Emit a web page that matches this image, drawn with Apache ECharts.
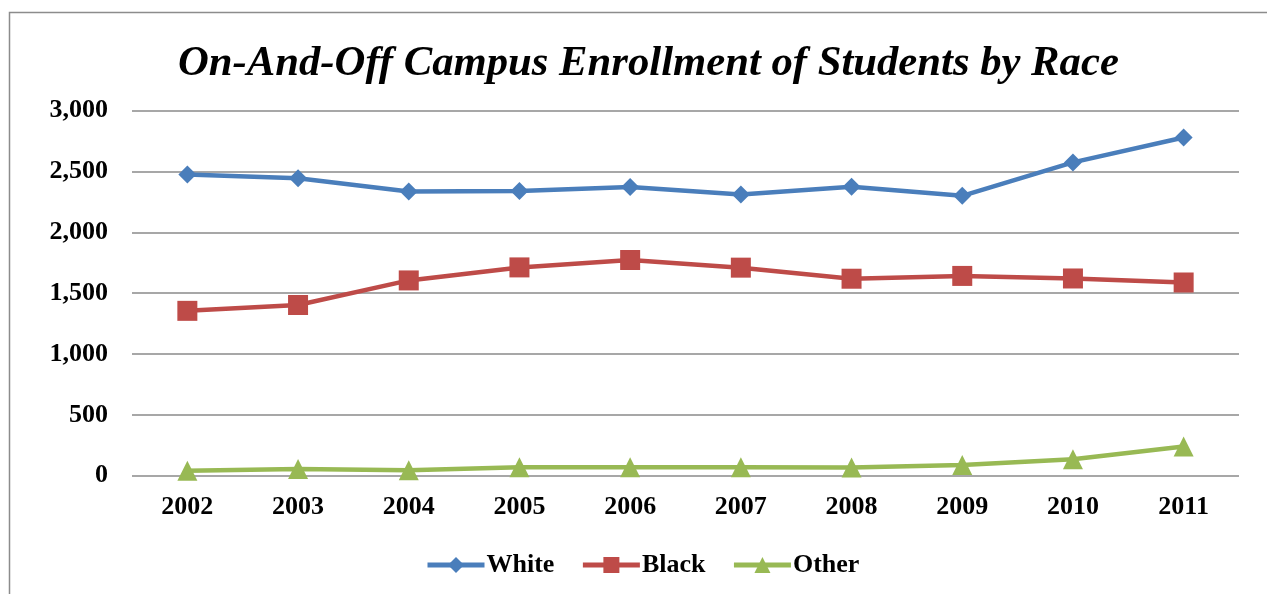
<!DOCTYPE html>
<html><head><meta charset="utf-8">
<script src="https://cdn.jsdelivr.net/npm/echarts@6/dist/echarts.min.js"></script>
<style>html,body{margin:0;padding:0;background:#fff}#c{width:1267px;height:594px}</style>
</head><body><div id="c"></div>
<script>
const years = ['2002','2003','2004','2005','2006','2007','2008','2009','2010','2011'];
const white = [2475, 2445, 2335, 2340, 2373, 2312, 2375, 2300, 2575, 2780];
const black = [1355, 1403, 1605, 1712, 1773, 1710, 1619, 1642, 1621, 1588];
const other = [40, 55, 45, 69, 69, 70, 67, 88, 135, 240];
const yTicks = [0, 500, 1000, 1500, 2000, 2500, 3000];

const chart = echarts.init(document.getElementById('c'));
const serif = '"Liberation Serif", "DejaVu Serif", serif';
function mk(name, data, color, symbol, size) {
  return {name, type:'line', data, symbol, symbolSize:size, showSymbol:true,
    lineStyle:{color, width:4.5}, itemStyle:{color}, z: 3, animation:false};
}
chart.setOption({
  animation:false,
  graphic:[{type:'rect', shape:{x:9.5, y:12.5, width:1400, height:700}, style:{fill:'none', stroke:'#8c8c8c', lineWidth:1.5}, z:-1}],
  title:{text:'On-And-Off Campus Enrollment of Students by Race', left:173, top:37,
    textStyle:{fontFamily:serif, fontStyle:'italic', fontWeight:'bold', fontSize:42.7, color:'#000'}},
  legend:{bottom:11, left:420, itemWidth:57, itemHeight:20, itemGap:26,
    lineStyle:{width:5},
    textStyle:{fontFamily:serif, fontWeight:'bold', fontSize:26, color:'#000', padding:[0,0,0,-3]},
    data:['White','Black','Other']},
  grid:{left:132, right:28, top:110.7, bottom:118.3},
  xAxis:{type:'category', data:years, boundaryGap:true,
    axisLine:{show:false}, axisTick:{show:false},
    axisLabel:{fontFamily:serif, fontWeight:'bold', fontSize:26, color:'#000', margin:19}},
  yAxis:{type:'value', min:yTicks[0], max:yTicks[yTicks.length-1], interval:500,
    axisLine:{show:false}, axisTick:{show:false},
    splitLine:{lineStyle:{color:'#8a8a8a', width:1.5}},
    axisLabel:{fontFamily:serif, fontWeight:'bold', fontSize:26, color:'#000', margin:24,
      formatter:v=>v.toLocaleString('en-US')}},
  series:[
    mk('White', white, '#4a7ebb', 'diamond', 18),
    mk('Black', black, '#be4b48', 'rect', 20),
    mk('Other', other, '#98b954', 'triangle', 20)
  ]
});
</script></body></html>
